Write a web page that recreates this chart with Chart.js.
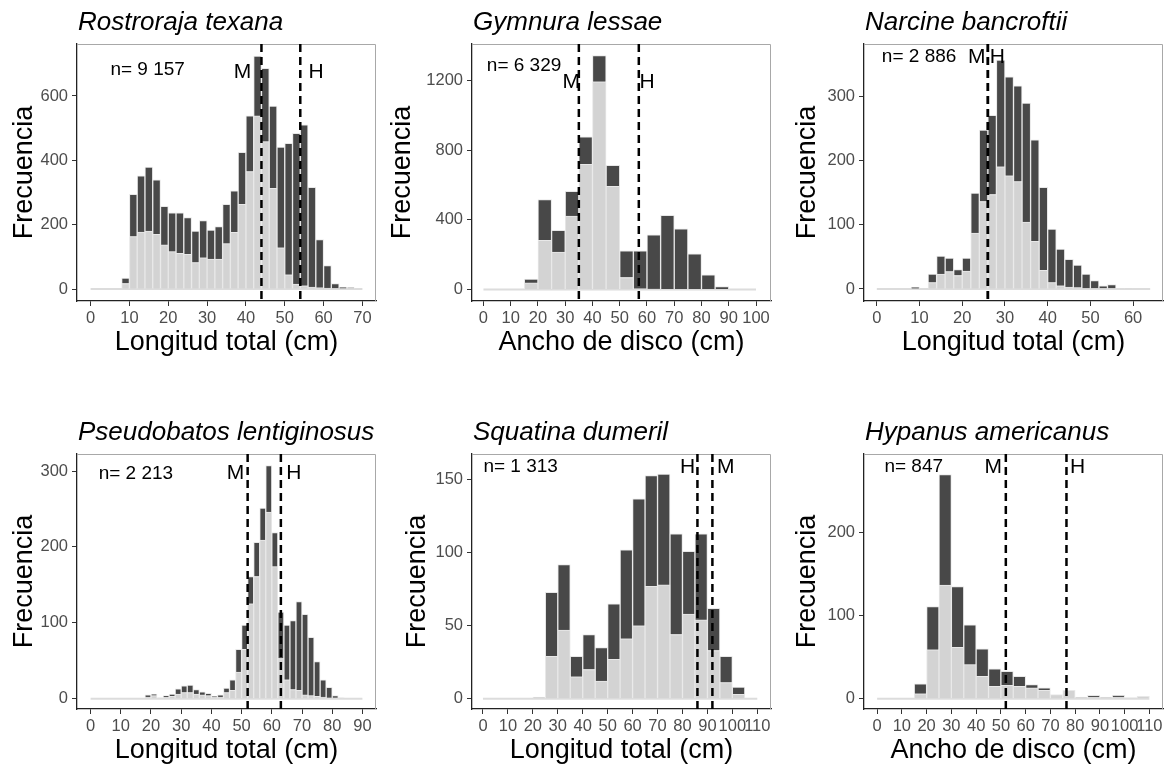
<!DOCTYPE html>
<html>
<head>
<meta charset="utf-8">
<script src="https://cdn.jsdelivr.net/npm/chart.js@4"></script>
<style>
  body { margin: 0; background: #fff; }
  #wrap { position: relative; width: 1169px; height: 770px; }
  canvas { position: absolute; }
</style>
</head>
<body>
<div id="wrap"></div>
<script>
// histogram data (light = lower part, dark = upper part)
const rtMid = [1,3,5,7,9,11,13,15,17,19,21,23,25,27,29,31,33,35,37,39,41,43,45,47,49,51,53,55,57,59,61,63,65,67,69];
const rtLight = [0,0,0,0,17,163,177,180,170,137,116,111,108,82,97,93,93,141,176,263,365,538,458,313,128,44,15,10,6,4,3,2,2,3,0];
const rtDark = [0,0,0,0,17,131,175,199,169,120,121,126,114,98,116,90,101,122,129,162,173,186,228,256,313,409,469,500,310,150,70,15,4,1,0];
const rtRange = [0, 70];
const rtTicks = [0,10,20,30,40,50,60,70];
const rtYTicks = [0,200,400,600];
const rtCut = [44, 54];

const glMid = [2.5,7.5,12.5,17.5,22.5,27.5,32.5,37.5,42.5,47.5,52.5,57.5,62.5,67.5,72.5,77.5,82.5,87.5,92.5,97.5];
const glLight = [0,0,0,38,282,215,422,720,1194,593,69,4,3,0,0,0,0,0,0,0];
const glDark = [0,0,0,22,235,125,143,157,150,121,154,219,312,426,349,205,84,17,0,0];
const glRange = [0, 100];
const glTicks = [0,10,20,30,40,50,60,70,80,90,100];
const glYTicks = [0,400,800,1200];
const glCut = [35, 57];

const nbMid = [1,3,5,7,9,11,13,15,17,19,21,23,25,27,29,31,33,35,37,39,41,43,45,47,49,51,53,55,57,59,61,63];
const nbLight = [0,0,0,0,0,0,10,23,27,21,28,87,136,147,190,176,167,104,74,29,10,5,3,2,1,1,1,1,0,1,0,0];
const nbDark = [0,0,0,0,3,0,13,28,21,9,20,62,111,123,166,154,149,185,158,129,83,57,43,35,22,12,4,6,0,0,0,0];
const nbRange = [0, 64];
const nbTicks = [0,10,20,30,40,50,60];
const nbYTicks = [0,100,200,300];
const nbCut = [26, 26];

const plMid = [1,3,5,7,9,11,13,15,17,19,21,23,25,27,29,31,33,35,37,39,41,43,45,47,49,51,53,55,57,59,61,63,65,67,69,71,73,75,77,79,81,83,85,87,89];
const plLight = [0,0,0,0,0,0,0,0,0,2,4,1,2,3,6,8,8,6,5,4,2,2,8,11,35,65,125,161,209,246,174,53,25,12,11,5,4,3,2,1,1,1,0,0,0];
const plDark = [0,0,0,0,0,0,0,0,0,3,2,0,2,3,7,9,10,6,4,3,1,3,6,14,30,32,36,45,42,61,45,61,72,91,117,106,77,46,23,14,3,0,0,0,0];
const plRange = [0, 90];
const plTicks = [0,10,20,30,40,50,60,70,80,90];
const plYTicks = [0,100,200,300];
const plCut = [52, 63];

const sdMid = [2.5,7.5,12.5,17.5,22.5,27.5,32.5,37.5,42.5,47.5,52.5,57.5,62.5,67.5,72.5,77.5,82.5,87.5,92.5,97.5,102.5,107.5];
const sdLight = [0,0,0,0,1,29,47,15,20,12,27,41,50,77,78,44,58,54,33,11,3,0];
const sdDark = [0,0,0,0,0,44,45,14,24,23,38,61,87,76,76,69,43,59,29,18,5,0];
const sdRange = [0, 110];
const sdTicks = [0,10,20,30,40,50,60,70,80,90,100,110];
const sdYTicks = [0,50,100,150];
const sdCut = [92, 86];

const haMid = [2.5,7.5,12.5,17.5,22.5,27.5,32.5,37.5,42.5,47.5,52.5,57.5,62.5,67.5,72.5,77.5,82.5,87.5,92.5,97.5,102.5,107.5];
const haLight = [0,0,0,6,59,137,62,41,27,15,16,15,13,10,5,10,2,2,2,2,1,3];
const haDark = [0,0,0,12,52,133,73,48,33,21,17,12,4,3,0,0,0,2,0,2,0,0];
const haRange = [0, 110];
const haTicks = [0,10,20,30,40,50,60,70,80,90,100,110];
const haYTicks = [0,100,200];
const haCut = [52, 76.5];

const FONT = "'Liberation Sans', Arial, sans-serif";
const YW = 50, XH = 30;

// cell = canvas box, area = plot panel box (left, top, right, bottom)
const panels = [
  {cell:[0,0,390,385], area:[77,44,376,301], title:'Rostroraja texana', xTitle:'Longitud total (cm)',
   mid:rtMid, light:rtLight, dark:rtDark, range:rtRange, xTicks:rtTicks, yTicks:rtYTicks, cut:rtCut,
   xLim:[-3.5,73.5], yLim:[-37.3,761.6], n:'n= 9 157', nPos:[14.7,681], mPos:[39.1,675], hPos:[58.1,675], yDx:52},
  {cell:[390,0,390,385], area:[472,44,771,301], title:'Gymnura lessae', xTitle:'Ancho de disco (cm)',
   mid:glMid, light:glLight, dark:glDark, range:glRange, xTicks:glTicks, yTicks:glYTicks, cut:glCut,
   xLim:[-4.2,105.5], yLim:[-66,1411], n:'n= 6 329', nPos:[14.9,1285], mPos:[32.2,1192], hPos:[60.0,1192], yDx:69},
  {cell:[780,0,389,385], area:[864,44,1163,301], title:'Narcine bancroftii', xTitle:'Longitud total (cm)',
   mid:nbMid, light:nbLight, dark:nbDark, range:nbRange, xTicks:nbTicks, yTicks:nbYTicks, cut:nbCut,
   xLim:[-3.0,67.0], yLim:[-18.7,381], n:'n= 2 886', nPos:[9.9,361], mPos:[23.4,361], hPos:[28.2,361], yDx:56},
  {cell:[0,385,390,385], area:[77,454,376,709], title:'Pseudobatos lentiginosus', xTitle:'Longitud total (cm)',
   mid:plMid, light:plLight, dark:plDark, range:plRange, xTicks:plTicks, yTicks:plYTicks, cut:plCut,
   xLim:[-4.5,94.5], yLim:[-13.6,322.4], n:'n= 2 213', nPos:[15.0,297], mPos:[48.0,297], hPos:[67.3,297], yDx:52},
  {cell:[390,385,390,385], area:[472,454,771,709], title:'Squatina dumeril', xTitle:'Longitud total (cm)',
   mid:sdMid, light:sdLight, dark:sdDark, range:sdRange, xTicks:sdTicks, yTicks:sdYTicks, cut:sdCut,
   xLim:[-4.4,115.5], yLim:[-7.1,167.8], n:'n= 1 313', nPos:[15.1,159], mPos:[97.4,159], hPos:[82.0,159], yDx:54},
  {cell:[780,385,389,385], area:[864,454,1163,709], title:'Hypanus americanus', xTitle:'Ancho de disco (cm)',
   mid:haMid, light:haLight, dark:haDark, range:haRange, xTicks:haTicks, yTicks:haYTicks, cut:haCut,
   xLim:[-5.3,115.5], yLim:[-12.4,294.8], n:'n= 847', nPos:[14.8,279.5], mPos:[46.9,279], hPos:[81.0,279], yDx:56}
];

// dashed lines, labels, titles and the grey top/right frame
const decor = {
  id: 'decor',
  afterDatasetsDraw(chart, args, o) {
    const {ctx, chartArea: a} = chart;
    const x = chart.scales.x, y = chart.scales.y;
    ctx.save();
    ctx.strokeStyle = '#a8a8a8';
    ctx.lineWidth = 1;
    ctx.beginPath();
    ctx.moveTo(a.left, a.top + 0.5);
    ctx.lineTo(a.right - 0.5, a.top + 0.5);
    ctx.lineTo(a.right - 0.5, a.bottom);
    ctx.stroke();

    ctx.strokeStyle = '#000';
    ctx.lineWidth = 2.5;
    ctx.setLineDash([8, 5]);
    o.p.cut.forEach(v => {
      const px = x.getPixelForValue(v);
      ctx.beginPath();
      ctx.moveTo(px, a.top);
      ctx.lineTo(px, a.bottom);
      ctx.stroke();
    });
    ctx.setLineDash([]);

    ctx.fillStyle = '#000';
    ctx.textAlign = 'center';
    ctx.textBaseline = 'middle';
    ctx.font = '19px ' + FONT;
    ctx.fillText(o.p.n, x.getPixelForValue(o.p.nPos[0]), y.getPixelForValue(o.p.nPos[1]));
    ctx.font = '21px ' + FONT;
    ctx.fillText('M', x.getPixelForValue(o.p.mPos[0]), y.getPixelForValue(o.p.mPos[1]));
    ctx.fillText('H', x.getPixelForValue(o.p.hPos[0]), y.getPixelForValue(o.p.hPos[1]));

    // plot title
    ctx.textAlign = 'left';
    ctx.textBaseline = 'alphabetic';
    ctx.font = 'italic 26px ' + FONT;
    ctx.fillText(o.p.title, a.left + 1, a.top - 14);

    // axis titles
    ctx.textAlign = 'center';
    ctx.textBaseline = 'middle';
    ctx.font = '27px ' + FONT;
    ctx.fillText(o.p.xTitle, (a.left + a.right) / 2, a.bottom + 42);
    ctx.translate(a.left - o.p.yDx, (a.top + a.bottom) / 2);
    ctx.rotate(-Math.PI / 2);
    ctx.fillText('Frecuencia', 0, 0);
    ctx.restore();
  }
};

const wrap = document.getElementById('wrap');
panels.forEach(p => {
  const cv = document.createElement('canvas');
  const [cl, ct, cw, ch] = p.cell;
  cv.width = cw; cv.height = ch;
  cv.style.left = cl + 'px'; cv.style.top = ct + 'px';
  cv.style.width = cw + 'px'; cv.style.height = ch + 'px';
  wrap.appendChild(cv);

  const barStyle = {
    stack: 's', barPercentage: 1, categoryPercentage: 1,
    borderColor: '#e8e8e8', borderWidth: 1, order: 0
  };

  new Chart(cv, {
    type: 'bar',
    data: {
      datasets: [
        Object.assign({data: p.mid.map((v, i) => ({x: v, y: p.light[i]})), backgroundColor: '#d3d3d3'}, barStyle),
        Object.assign({data: p.mid.map((v, i) => ({x: v, y: p.dark[i]})), backgroundColor: '#484848'}, barStyle),
        {type: 'line', data: p.range.map(v => ({x: v, y: 0})), borderColor: '#dcdcdc',
         borderWidth: 2, pointRadius: 0, order: 2}
      ]
    },
    options: {
      responsive: false,
      animation: false,
      devicePixelRatio: 1,
      layout: {padding: {
        left: p.area[0] - cl - YW,
        right: cl + cw - p.area[2],
        top: p.area[1] - ct,
        bottom: ct + ch - p.area[3] - XH
      }},
      plugins: {legend: {display: false}, tooltip: {enabled: false}, decor: {p: p}},
      scales: {
        x: {
          type: 'linear', stacked: true, offset: false,
          min: p.xLim[0], max: p.xLim[1],
          afterBuildTicks: s => { s.ticks = p.xTicks.map(v => ({value: v})); },
          afterFit: s => { s.height = XH; },
          ticks: {autoSkip: false, maxRotation: 0, color: '#4d4d4d', padding: 3,
                  font: {family: FONT, size: 16.5}, callback: v => String(v)},
          grid: {drawOnChartArea: false, tickLength: 5, color: '#333', offset: false},
          border: {color: '#222', width: 1.3}
        },
        y: {
          stacked: true,
          min: p.yLim[0], max: p.yLim[1],
          afterBuildTicks: s => { s.ticks = p.yTicks.map(v => ({value: v})); },
          afterFit: s => { s.width = YW; },
          ticks: {color: '#4d4d4d', padding: 4, font: {family: FONT, size: 16.5}, callback: v => String(v)},
          grid: {drawOnChartArea: false, tickLength: 5, color: '#333'},
          border: {color: '#222', width: 1.3}
        }
      }
    },
    plugins: [decor]
  });
});
</script>
</body>
</html>
